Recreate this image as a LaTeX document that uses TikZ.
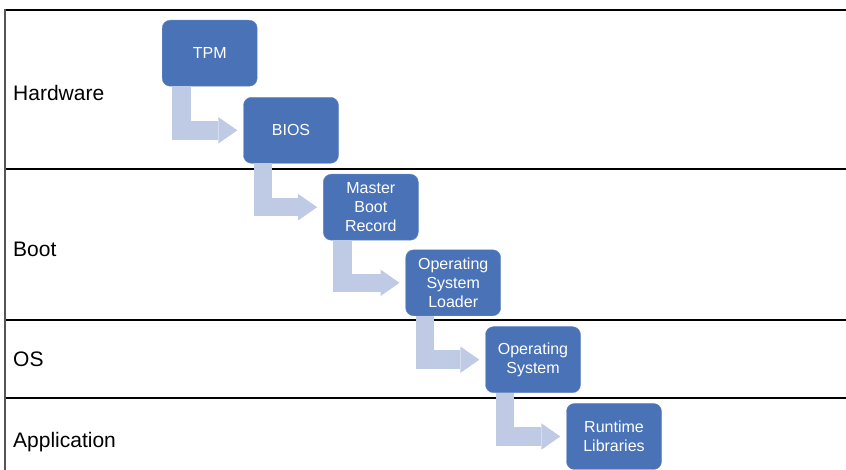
\documentclass[tikz,border=0pt]{standalone}
\usepackage{fontspec}
\setmainfont{Liberation Sans}
\usepackage{xcolor}
\usepackage{tikz}
\usetikzlibrary{arrows.meta}
\definecolor{stageblue}{HTML}{4A72B7}
\definecolor{flowblue}{HTML}{BFCAE4}
\definecolor{edgegray}{HTML}{555555}

\begin{document}
\begin{tikzpicture}[x=1pt, y=1pt,
    stage/.style={fill=stageblue, draw=stageblue!85!white, rounded corners=8pt,
      minimum width=95pt, minimum height=66pt, align=center, text=white,
      font=\fontsize{16}{18.7}\selectfont, inner sep=2pt},
    layer/.style={anchor=base west, inner sep=0pt, font=\fontsize{21}{25}\selectfont},
    rule/.style={black, line width=1.4pt},
    flow/.style={flowblue, line width=18.5pt, line join=miter, shorten >=6pt,
      -{Triangle[length=19pt 0 0, width=26.5pt 0 0, line width=0pt 0 0]}}]
  \useasboundingbox (0,0) rectangle (846,470);
  \draw[rule] (5,460) -- (846,460);
  \draw[rule] (5,301) -- (846,301);
  \draw[rule] (5,150) -- (846,150);
  \draw[rule] (5,72) -- (846,72);
  \draw[edgegray, line width=2pt] (5,461) -- (5,0);
  \node[layer] (hw)  at (13,369) {Hardware};
  \node[layer] (bt)  at (13,213) {Boot};
  \node[layer] (oslab) at (13,103) {OS};
  \node[layer] (app) at (13,22.5) {Application};
  \node[stage] (tpm)    at (209.7,416.8) {TPM};
  \node[stage] (bios)   at (291,339.7) {BIOS};
  \node[stage] (mbr)    at (370.8,262.8) {Master\\Boot\\Record};
  \node[stage] (loader) at (453.2,187.2) {Operating\\System\\Loader};
  \node[stage] (os)     at (533,110.3) {Operating\\System};
  \node[stage] (rt)     at (614,33.5) {Runtime\\Libraries};
  \draw[flow] ([xshift=19.5pt]tpm.south west) |- (bios.west);
  \draw[flow] ([xshift=19.5pt]bios.south west) |- (mbr.west);
  \draw[flow] ([xshift=19.5pt]mbr.south west) |- (loader.west);
  \draw[flow] ([xshift=19.5pt]loader.south west) |- (os.west);
  \draw[flow] ([xshift=19.5pt]os.south west) |- (rt.west);
\end{tikzpicture}
\end{document}
